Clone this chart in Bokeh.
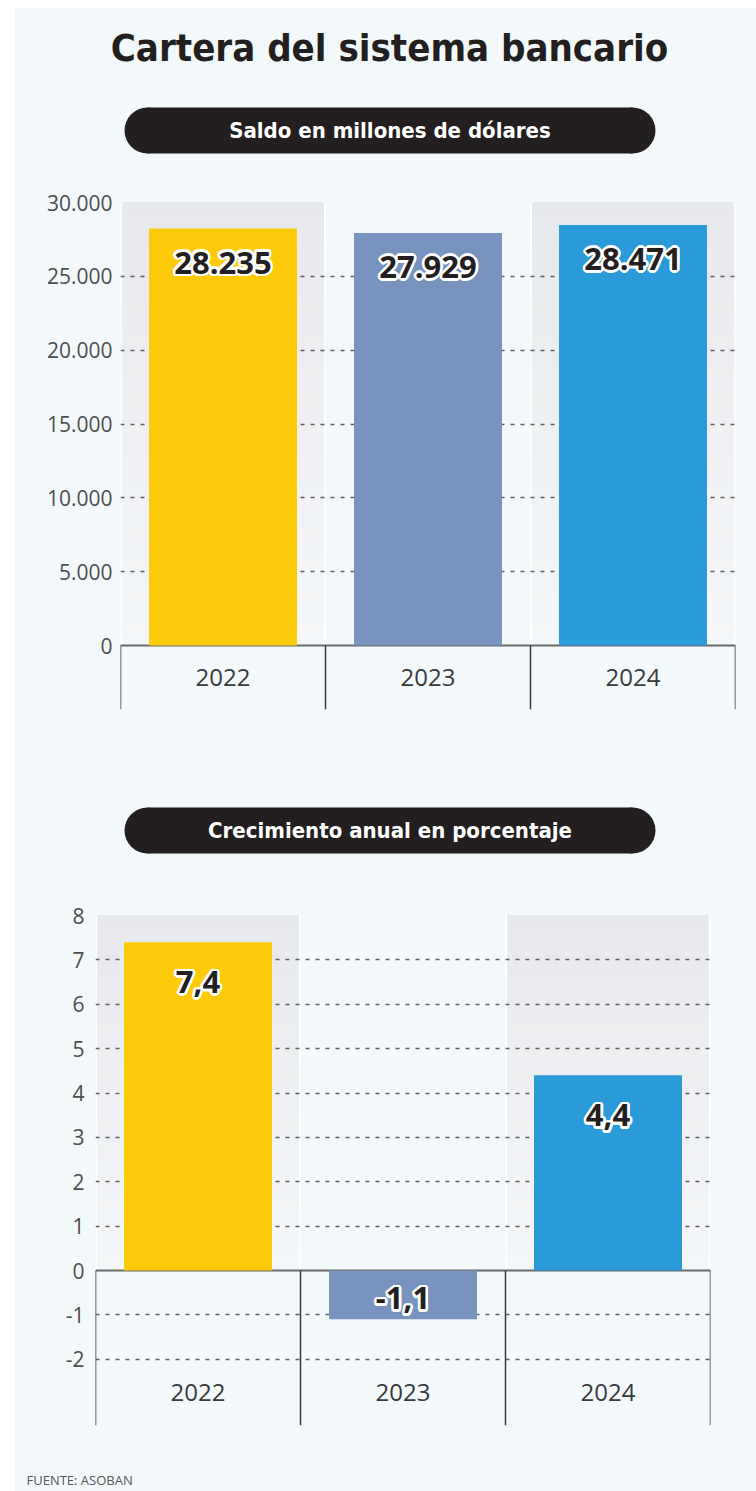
import math
from bokeh.plotting import figure
from bokeh.layouts import column, row
from bokeh.models import (FactorRange, Range1d, FixedTicker, Span, ColumnDataSource,
                          Spacer, Plot)
from bokeh.transform import dodge
from bokeh.core.properties import value
from bokeh.embed import file_html
from bokeh.resources import INLINE

# ---------------- data ----------------
title = "Cartera del sistema bancario"
subtitle_saldo = "Saldo en millones de dólares"
subtitle_crec = "Crecimiento anual en porcentaje"
source_note = "FUENTE: ASOBAN"

years = ["2022", "2023", "2024"]
saldo = [28235, 27929, 28471]
saldo_labels = ["28.235", "27.929", "28.471"]
crecimiento = [7.4, -1.1, 4.4]
crecimiento_labels = ["7,4", "-1,1", "4,4"]

saldo_ticks = [0, 5000, 10000, 15000, 20000, 25000, 30000]
saldo_tick_labels = ["0", "5.000", "10.000", "15.000", "20.000", "25.000", "30.000"]
crec_ticks = [-2, -1, 0, 1, 2, 3, 4, 5, 6, 7, 8]
crec_tick_labels = ["-2", "-1", "0", "1", "2", "3", "4", "5", "6", "7", "8"]

bar_colors = ["#fcca09", "#7893be", "#2a9bd8"]
shaded_years = ["2022", "2024"]

# ---------------- styles ----------------
BG = "#f3f9fa"
INK = "#231f20"
COND = value("DejaVu Sans Condensed")
SANS = value("Open Sans")
W = 741
NOALIGN = {"frame_align": False} if "frame_align" in Plot.properties() else {}


def blank(h, y_top):
    p = figure(width=W, height=h, x_range=Range1d(15, 756), y_range=Range1d(y_top + h, y_top),
               output_backend="svg", toolbar_location=None, x_axis_location=None,
               y_axis_location=None, min_border=0, min_border_left=0, min_border_right=0,
               min_border_top=0, min_border_bottom=0, background_fill_color=BG,
               border_fill_color=BG, outline_line_color=None, **NOALIGN)
    p.xgrid.visible = False
    p.ygrid.visible = False
    return p


def pill(p, text, x0, x1, yc, h):
    r = h / 2
    p.quad(left=[x0 + r], right=[x1 - r], top=[yc - r], bottom=[yc + r],
           fill_color=INK, line_color=None)
    p.ellipse(x=[x0 + r, x1 - r], y=[yc, yc], width=h, height=h,
              fill_color=INK, line_color=None)
    p.text(x=[(x0 + x1) / 2], y=[yc], text=[text], text_font=COND,
           text_font_style="bold", text_font_size="22px", text_color="white",
           text_align="center", text_baseline="middle")


def outlined(p, xs, ys, texts, offs, size):
    common = dict(text_font=SANS, text_font_style="bold", text_font_size=size,
                  text_align="center", text_baseline="middle")
    n = 12
    for k in range(n):
        a = 2 * math.pi * k / n
        dx, dy = 2.6 * math.cos(a), 2.6 * math.sin(a)
        p.text(x=xs, y=ys, text=texts, x_offset=dx, y_offset=[o + dy for o in offs],
               text_color="white", **common)
    p.text(x=xs, y=ys, text=texts, y_offset=offs, text_color="#231f20", **common)


def chart(vals, labels, ticks, tick_labels, h, b_top, b_bottom, b_left, b_right,
          top_px, zero_px, bottom_px, pos_dy, neg_dy, standoff):
    y_max = ticks[-1]
    ppu = (zero_px - top_px) / y_max
    y_start = -(bottom_px - zero_px) / ppu
    p = figure(width=W, height=h, x_range=FactorRange(*years), y_range=Range1d(y_start, y_max),
               output_backend="svg", toolbar_location=None, x_axis_location=None,
               y_axis_location="left", background_fill_color=BG, border_fill_color=BG,
               outline_line_color=None, min_border_top=b_top, min_border_bottom=b_bottom,
               min_border_left=b_left, min_border_right=b_right, **NOALIGN)
    # shaded column backgrounds with a soft vertical gradient (overlapping bands, no seams)
    p.vbar(x=shaded_years, bottom=0, top=y_max, width=1.0, fill_color="white",
           line_color=None, level="image")
    n = 40
    top_rgb, bot_rgb = (231, 232, 235), (244, 247, 249)
    bx, bb, bt, bc = [], [], [], []
    for i in range(n):
        f = (i + 0.5) / n
        c = tuple(int(round(bot_rgb[k] + (top_rgb[k] - bot_rgb[k]) * f)) for k in range(3))
        for yr in shaded_years:
            bx.append(yr)
            bb.append(y_max * i / n)
            bt.append(y_max)
            bc.append("#%02x%02x%02x" % c)
    p.vbar(x=bx, bottom=bb, top=bt, width=0.98, fill_color=bc, line_color=None, level="image")

    # grid
    p.xgrid.visible = False
    p.ygrid.ticker = FixedTicker(ticks=[t for t in ticks if t != 0])
    p.ygrid.grid_line_color = "#5f5f5f"
    p.ygrid.grid_line_width = 1.5
    p.ygrid.grid_line_dash = "4 6"

    # zero line
    p.add_layout(Span(location=0, dimension="width", line_color="#6b6b6b", line_width=2,
                      level="underlay"))

    # bars
    p.vbar(x=years, top=vals, bottom=0, width=148 / 205, fill_color=bar_colors, line_color=None)

    # category box
    src = ColumnDataSource(dict(years=years))
    last = ColumnDataSource(dict(years=[years[-1]]))
    p.segment(x0=dodge("years", -0.5, range=p.x_range), x1=dodge("years", -0.5, range=p.x_range),
              y0=0, y1=y_start, source=src, line_color="#3a3a3a", line_width=1.5)
    p.segment(x0=dodge("years", 0.5, range=p.x_range), x1=dodge("years", 0.5, range=p.x_range),
              y0=0, y1=y_start, source=last, line_color="#3a3a3a", line_width=1.5)
    label_y = (y_start + min(ticks)) / 2
    p.text(x=years, y=[label_y] * len(years), text=years, text_font=SANS, text_font_size="24px",
           text_color="#3a3a3a", text_align="center", text_baseline="middle")

    # value labels
    offs = [pos_dy if v >= 0 else neg_dy for v in vals]
    outlined(p, years, vals, labels, offs, "31px")

    # axis
    ax = p.yaxis[0]
    ax.ticker = FixedTicker(ticks=ticks)
    ax.major_label_overrides = {t: l for t, l in zip(ticks, tick_labels)}
    ax.axis_line_color = None
    ax.major_tick_line_color = None
    ax.minor_tick_line_color = None
    ax.major_tick_out = 0
    ax.major_tick_in = 0
    ax.major_label_standoff = standoff
    ax.major_label_text_font = "Open Sans"
    ax.major_label_text_font_size = "21px"
    ax.major_label_text_color = "#4d4d4d"
    return p


# header 1 : page y 8 -> 190
h1 = blank(182, 8)
h1.text(x=[389], y=[47], text=[title], text_font=COND, text_font_style="bold",
        text_font_size="38px", text_color=INK, text_align="center", text_baseline="middle")
pill(h1, subtitle_saldo, 124, 655, 130, 46)

# chart 1 : page y 190 -> 760
c1 = chart(saldo, saldo_labels, saldo_ticks, saldo_tick_labels, 570, 12, 51, 105, 21,
           202, 645, 709, 34, -21, 8)

# header 2 : page y 760 -> 900
h2 = blank(140, 760)
pill(h2, subtitle_crec, 124, 655, 830, 46)

# chart 2 : page y 900 -> 1440
c2 = chart(crecimiento, crecimiento_labels, crec_ticks, crec_tick_labels, 540, 15, 15, 80, 46,
           915, 1270, 1425, 40, -21, 11)

# footer : page y 1440 -> 1491
ft = blank(51, 1440)
ft.text(x=[26], y=[1479], text=[source_note], text_font=SANS, text_font_size="13px",
        text_color="#555555", text_align="left", text_baseline="middle")

stack = column(h1, c1, h2, c2, ft, spacing=0, styles={"background-color": BG})
layout = row(Spacer(width=15, height=1491),
             column(Spacer(width=W, height=8), stack, spacing=0), spacing=0)

open("out.html", "w").write(file_html(layout, INLINE))
